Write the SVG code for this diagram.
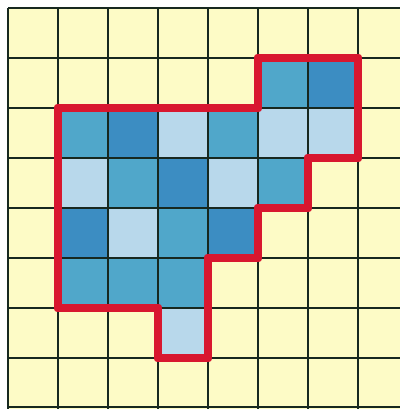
<svg xmlns="http://www.w3.org/2000/svg" width="400" height="409" viewBox="0 0 400 409">
<style>
.bg{fill:#fdfbc6}
.d{fill:#3c8dc2}
.m{fill:#50a7ca}
.l{fill:#b8d8eb}
.grid{stroke:#17281f;stroke-width:2;fill:none}
.outline{stroke:#d8172f;stroke-width:8;fill:none;stroke-linejoin:round}
</style>
<rect x="0" y="0" width="400" height="409" fill="#ffffff"/>
<rect class="bg" x="8" y="8" width="392" height="401"/>
<g id="cells">
<rect class="m" x="258" y="58" width="50" height="50"/>
<rect class="d" x="308" y="58" width="50" height="50"/>
<rect class="m" x="58" y="108" width="50" height="50"/>
<rect class="d" x="108" y="108" width="50" height="50"/>
<rect class="l" x="158" y="108" width="50" height="50"/>
<rect class="m" x="208" y="108" width="50" height="50"/>
<rect class="l" x="258" y="108" width="50" height="50"/>
<rect class="l" x="308" y="108" width="50" height="50"/>
<rect class="l" x="58" y="158" width="50" height="50"/>
<rect class="m" x="108" y="158" width="50" height="50"/>
<rect class="d" x="158" y="158" width="50" height="50"/>
<rect class="l" x="208" y="158" width="50" height="50"/>
<rect class="m" x="258" y="158" width="50" height="50"/>
<rect class="d" x="58" y="208" width="50" height="50"/>
<rect class="l" x="108" y="208" width="50" height="50"/>
<rect class="m" x="158" y="208" width="50" height="50"/>
<rect class="d" x="208" y="208" width="50" height="50"/>
<rect class="m" x="58" y="258" width="50" height="50"/>
<rect class="m" x="108" y="258" width="50" height="50"/>
<rect class="m" x="158" y="258" width="50" height="50"/>
<rect class="l" x="158" y="308" width="50" height="50"/>
</g>
<g id="grid" class="grid">
<path d="M8 8V409M58 8V409M108 8V409M158 8V409M208 8V409M258 8V409M308 8V409M358 8V409"/>
<path d="M8 8H400M8 58H400M8 108H400M8 158H400M8 208H400M8 258H400M8 308H400M8 358H400M8 407H400"/>
</g>
<g id="outline">
<path class="outline" d="M58 108H258V58H358V158H308V208H258V258H208V358H158V308H58Z"/>
</g>
</svg>
